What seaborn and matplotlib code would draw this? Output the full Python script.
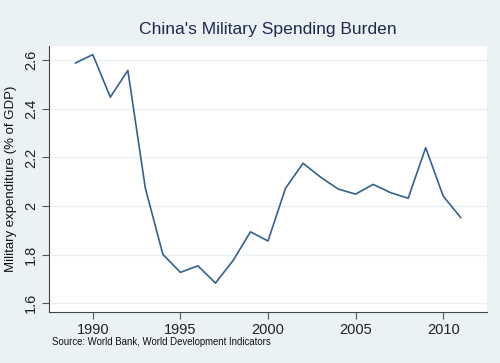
import numpy as np
import pandas as pd
import seaborn as sns
import matplotlib.pyplot as plt

years = list(range(1989, 2012))
spending = [2.588, 2.623, 2.448, 2.558, 2.073, 1.801, 1.727, 1.754, 1.683, 1.775,
            1.894, 1.856, 2.073, 2.176, 2.119, 2.070, 2.049, 2.089, 2.055, 2.032,
            2.240, 2.041, 1.952]
x_ticks = [1990, 1995, 2000, 2005, 2010]
y_ticks = [1.6, 1.8, 2.0, 2.2, 2.4, 2.6]
y_tick_labels = ['1.6', '1.8', '2', '2.2', '2.4', '2.6']

df = pd.DataFrame({'year': years, 'milex': spending})

sns.set_theme(style='white')
plt.rcParams['font.family'] = ['Liberation Sans', 'DejaVu Sans']

bg = '#eaf2f3'
fig = plt.figure(figsize=(5, 3.63), dpi=100, facecolor=bg)
ax = fig.add_axes([0.098, 0.1405, 0.876, 0.7325])
ax.set_facecolor('white')

for yt in y_ticks:
    ax.axhline(yt, color=bg, lw=1.0, zorder=0)

sns.lineplot(data=df, x='year', y='milex', ax=ax, color='#35618c', lw=1.2)

ax.set_xlim(1987.5, 2012.5)
ax.set_ylim(1.564, 2.658)
ax.set_xticks(x_ticks)
ax.set_yticks(y_ticks)
ax.set_yticklabels(y_tick_labels, rotation=90, va='center')
ax.tick_params(axis='both', labelsize=10.5, colors='#222222', length=5, width=0.8,
               direction='out', bottom=True, left=True, pad=3)
ax.tick_params(axis='both', color='#555555')
ax.set_xlabel('')
ax.set_ylabel('Military expenditure (% of GDP)', fontsize=9.5, color='#111111', labelpad=5)

for s in ['top', 'right']:
    ax.spines[s].set_visible(False)
for s in ['left', 'bottom']:
    ax.spines[s].set_color('#444444')
    ax.spines[s].set_linewidth(0.8)

fig.text(0.536, 0.92, "China's Military Spending Burden", ha='center', va='center',
         fontsize=12.6, color='#1e2a4f')
fig.text(0.104, 0.058, 'Source: World Bank, World Development Indicators',
         ha='left', va='center', fontsize=6.9, color='#111111')

fig.savefig('out.png', dpi=100, facecolor=bg)
